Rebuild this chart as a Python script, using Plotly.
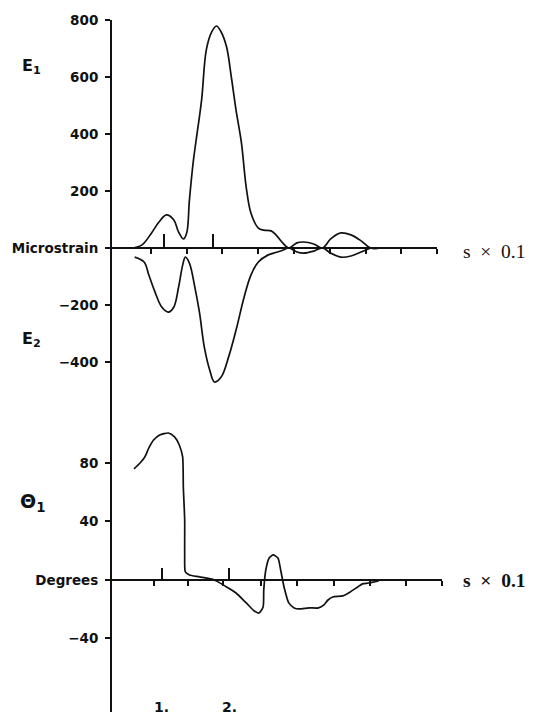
import plotly.graph_objects as go

# ---------------- data ----------------
# s axis in units of 0.1 ("1." and "2." stations)
e1_s = [0.56, 0.71, 0.85, 0.96, 1.07, 1.18, 1.25, 1.32, 1.37, 1.41,
        1.47, 1.51, 1.59, 1.66, 1.74, 1.81, 1.88, 1.96, 2.03, 2.10,
        2.18, 2.25, 2.32, 2.43, 2.51, 2.62, 2.69, 2.79, 2.88, 3.00,
        3.10, 3.25, 3.38, 3.50, 3.65, 3.80, 3.95, 4.09, 4.24]
e1_val = [0, 11, 53, 91, 116, 98, 56, 32, 53, 168,
          309, 379, 519, 695, 758, 779, 758, 705, 600, 484,
          368, 214, 123, 70, 63, 60, 46, 18, 0, 18,
          21, 14, 0, 32, 53, 46, 25, 0, 0]

e2_s = [0.60, 0.74, 0.81, 0.90, 1.00, 1.10, 1.18, 1.25, 1.31, 1.35,
        1.41, 1.49, 1.56, 1.63, 1.71, 1.78, 1.88, 1.99, 2.10, 2.22,
        2.32, 2.43, 2.57, 2.70, 2.80, 2.88, 3.00, 3.10, 3.25, 3.38,
        3.50, 3.65, 3.80, 3.95, 4.09]
e2_val = [-32, -49, -95, -154, -207, -225, -207, -137, -60, -32,
          -53, -137, -228, -347, -428, -470, -453, -382, -288, -172,
          -95, -49, -25, -15, -7, 0, -14, -18, -11, 0,
          -18, -32, -28, -14, 0]

th_s = [0.59, 0.68, 0.75, 0.81, 0.88, 0.97, 1.10, 1.19, 1.26, 1.31,
        1.32, 1.34, 1.34, 1.35, 1.41, 1.56, 1.78, 1.96, 2.10, 2.25,
        2.37, 2.44, 2.50, 2.51, 2.54, 2.59, 2.65, 2.72, 2.76, 2.81,
        2.88, 2.96, 3.03, 3.18, 3.32, 3.40, 3.46, 3.53, 3.68, 3.79,
        3.90, 3.97, 4.06, 4.21]
th_val = [75.9, 80.0, 84.1, 90.3, 95.7, 99.1, 100.5, 97.8, 92.3, 84.1,
          63.6, 41.0, 18.5, 5.5, 3.4, 2.1, 0.0, -4.8, -8.9, -15.7,
          -21.2, -22.6, -18.5, -6.8, 6.8, 15.0, 17.1, 15.0, 6.8, -4.8,
          -15.7, -19.1, -19.8, -19.1, -19.1, -17.1, -13.7, -11.6, -10.9, -8.2,
          -4.8, -2.7, -2.1, -0.7]

# axis ticks / labels
strain_tickvals = [800, 600, 400, 200, 0, -200, -400]
strain_ticktext = ["800", "600", "400", "200", "Microstrain", "\u2212200", "\u2212400"]
angle_tickvals = [80, 40, 0, -40]
angle_ticktext = ["80", "40", "Degrees", "\u221240"]
upper_minor_s = [0.838, 1.368, 1.897, 2.426, 2.956, 3.485, 4.015, 4.544, 5.074]
upper_station_s = [1.03, 1.76]
lower_minor_s = [0.882, 1.382, 1.912, 2.471, 3.0, 3.544, 4.088, 4.618, 5.147]
lower_station_s = [1.0, 1.99]
station_labels = ["1.", "2."]
station_label_s = [1.0, 2.0]

# ---------------- layout geometry ----------------
# the page body has an 8 px default margin, so the figure is drawn 8 px in
OFF = 8
W, H = 535 - OFF, 716 - OFF
ML = 109 - OFF
MT = 20 - OFF
MB = 4
MR = W - (445 - OFF)
PW, PH = W - ML - MR, H - MT - MB
SPLIT = (712 - 420) / PH
UP_RANGE = [-603.5, 800]
LO_RANGE = [-90.3, 109.4]
X_LO = 0.25
PX_PER_S = 68.0
UP_X_END = 5.074
LO_X_END = 5.147


def px_y(py):
    """reference-image pixel row -> paper y"""
    return (712 - py) / PH


def px_x(px):
    """reference-image pixel column -> paper x"""
    return (px - 109) / PW


up_dom_x = [0, (UP_X_END - X_LO) * PX_PER_S / PW]
lo_dom_x = [0, (LO_X_END - X_LO) * PX_PER_S / PW]
up_zero = SPLIT + (0 - UP_RANGE[0]) / (UP_RANGE[1] - UP_RANGE[0]) * (1 - SPLIT)
lo_zero = (0 - LO_RANGE[0]) / (LO_RANGE[1] - LO_RANGE[0]) * SPLIT

INK = "#111111"
LBL_FONT = dict(family="DejaVu Sans", size=13.5, color=INK, weight="bold")

fig = go.Figure()
line_style = dict(color=INK, width=1.7, shape="spline", smoothing=1.0)
fig.add_trace(go.Scatter(x=e1_s, y=e1_val, mode="lines", line=line_style,
                         xaxis="x", yaxis="y", hoverinfo="skip", showlegend=False))
fig.add_trace(go.Scatter(x=e2_s, y=e2_val, mode="lines", line=line_style,
                         xaxis="x", yaxis="y", hoverinfo="skip", showlegend=False))
fig.add_trace(go.Scatter(x=th_s, y=th_val, mode="lines",
                         line=dict(color=INK, width=1.7, shape="spline", smoothing=0.6),
                         xaxis="x2", yaxis="y2", hoverinfo="skip", showlegend=False))
# invisible traces so the station-tick overlay axes are drawn
fig.add_trace(go.Scatter(x=upper_station_s, y=[0, 0], mode="lines", opacity=0,
                         xaxis="x3", yaxis="y", hoverinfo="skip", showlegend=False))
fig.add_trace(go.Scatter(x=lower_station_s, y=[0, 0], mode="lines", opacity=0,
                         xaxis="x4", yaxis="y2", hoverinfo="skip", showlegend=False))

common_x = dict(showgrid=False, zeroline=False, showticklabels=False,
                anchor="free", fixedrange=True)

fig.update_layout(
    width=W, height=H,
    margin=dict(l=ML, r=MR, t=MT, b=MB),
    paper_bgcolor="white", plot_bgcolor="white",
    showlegend=False,
    xaxis=dict(**common_x, domain=up_dom_x, range=[X_LO, UP_X_END], position=up_zero,
               showline=True, linecolor=INK, linewidth=2,
               ticks="outside", ticklen=5, tickwidth=1.5, tickcolor=INK,
               tickvals=upper_minor_s),
    xaxis3=dict(**common_x, domain=up_dom_x, range=[X_LO, UP_X_END], position=up_zero,
                overlaying="x", side="top", showline=False,
                ticks="outside", ticklen=14, tickwidth=1.5, tickcolor=INK,
                tickvals=upper_station_s),
    xaxis2=dict(**common_x, domain=lo_dom_x, range=[X_LO, LO_X_END], position=lo_zero,
                showline=True, linecolor=INK, linewidth=2,
                ticks="outside", ticklen=5, tickwidth=1.5, tickcolor=INK,
                tickvals=lower_minor_s),
    xaxis4=dict(**common_x, domain=lo_dom_x, range=[X_LO, LO_X_END], position=lo_zero,
                overlaying="x2", side="top", showline=False,
                ticks="outside", ticklen=12, tickwidth=1.5, tickcolor=INK,
                tickvals=lower_station_s),
    yaxis=dict(domain=[SPLIT, 1], range=UP_RANGE, anchor="free", position=0,
               showgrid=False, zeroline=False, showline=True, linecolor=INK, linewidth=2,
               ticks="outside", ticklen=5, tickwidth=1.5, tickcolor=INK,
               tickvals=strain_tickvals, ticktext=strain_ticktext,
               tickfont=LBL_FONT, ticklabelstandoff=4, fixedrange=True),
    yaxis2=dict(domain=[0, SPLIT], range=LO_RANGE, anchor="free", position=0,
                showgrid=False, zeroline=False, showline=True, linecolor=INK, linewidth=2,
                ticks="outside", ticklen=5, tickwidth=1.5, tickcolor=INK,
                tickvals=angle_tickvals, ticktext=angle_ticktext,
                tickfont=LBL_FONT, ticklabelstandoff=4, fixedrange=True),
)

ann = []
sym_font = dict(family="DejaVu Sans", size=16, color=INK, weight="bold")
ann.append(dict(text="E<sub>1</sub>", xref="paper", yref="paper", x=px_x(17), y=px_y(66),
                xanchor="left", yanchor="middle", showarrow=False, font=sym_font))
ann.append(dict(text="E<sub>2</sub>", xref="paper", yref="paper", x=px_x(17), y=px_y(339),
                xanchor="left", yanchor="middle", showarrow=False, font=sym_font))
ann.append(dict(text="\u0398<sub>1</sub>", xref="paper", yref="paper", x=px_x(15), y=px_y(502),
                xanchor="left", yanchor="middle", showarrow=False,
                font=dict(family="DejaVu Sans", size=19, color=INK, weight="bold")))
sx = "s\u00a0\u00a0\u00d7\u00a0\u00a00.1"
ann.append(dict(text=sx, xref="paper", yref="paper", x=px_x(461), y=px_y(251),
                xanchor="left", yanchor="middle", showarrow=False,
                font=dict(family="Liberation Serif", size=19.5, color=INK)))
ann.append(dict(text=sx, xref="paper", yref="paper", x=px_x(461), y=px_y(580),
                xanchor="left", yanchor="middle", showarrow=False,
                font=dict(family="Liberation Serif", size=19.5, color=INK, weight="bold")))
for lab, s in zip(station_labels, station_label_s):
    ann.append(dict(text=lab, xref="x2", yref="paper", x=s, y=px_y(707),
                    xanchor="center", yanchor="middle", showarrow=False,
                    font=dict(family="DejaVu Sans", size=14, color=INK, weight="bold")))
fig.update_layout(annotations=ann)

fig.write_html("out.html")
